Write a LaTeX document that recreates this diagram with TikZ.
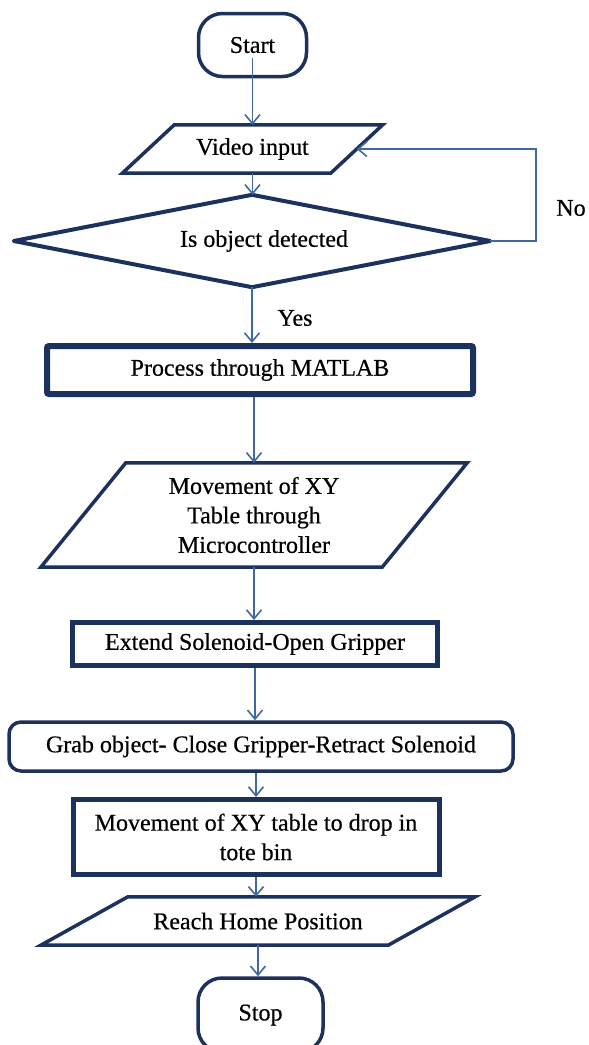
\documentclass[tikz,border=0pt]{standalone}
\usepackage{fontspec}
\setmainfont{Liberation Serif}[FakeBold=0.5]
\usetikzlibrary{arrows.meta}
\definecolor{edge}{RGB}{28,50,92}
\definecolor{flow}{RGB}{64,104,162}
\tikzset{
  base/.style={draw=edge, inner sep=0pt, align=center, font=\fontsize{24}{29.5}\selectfont},
  term/.style={base, line width=3.5pt, rounded corners=24pt},
  heavybox/.style={base, line width=6pt, rounded corners=2pt},
  midbox/.style={base, line width=5pt},
  softbox/.style={base, line width=3.5pt, rounded corners=12pt},
  body/.style={base, draw=none},
  outline/.style={draw=edge, line width=3.5pt, line join=miter},
  arr/.style={draw=flow, line width=1.8pt, -{Straight Barb[length=9pt,width=15pt,line width=1.6pt]}},
  lbl/.style={font=\fontsize{24}{29.5}\selectfont, inner sep=0pt},
}
\begin{document}
\begin{tikzpicture}[x=1pt,y=-1pt]
\clip (0,0) rectangle (589,1045);
\fill[white] (0,0) rectangle (589,1045);

% terminals and process steps
\node[term, minimum width=108pt, minimum height=63pt] (start) at (252.5,45) {Start};
\node[body, minimum width=208pt, minimum height=48pt] (vid) at (252.5,149) {Video input};
\draw[outline] ([xshift=26pt]vid.north west) -- ([xshift=26pt]vid.north east)
  -- ([xshift=-26pt]vid.south east) -- ([xshift=-26pt]vid.south west) -- cycle;

\node[body, minimum width=476pt, minimum height=92pt] (dec) at (252,241) {};
\draw[outline, line width=4pt, line join=round] (dec.north) -- (dec.east) -- (dec.south) -- (dec.west) -- cycle;
\node[lbl] (dectext) at ([xshift=12pt]dec.center) {Is object detected};

\node[heavybox, minimum width=426pt, minimum height=48pt] (proc) at (260,370) {Process through MATLAB};

\node[body, minimum width=341pt, minimum height=104pt] (xy) at (254,515) {Movement of XY\\Table through\\Microcontroller};
\draw[outline] ([xshift=42.5pt]xy.north west) -- ([xshift=42.5pt]xy.north east)
  -- ([xshift=-42.5pt]xy.south east) -- ([xshift=-42.5pt]xy.south west) -- cycle;

\node[midbox, minimum width=365pt, minimum height=43pt] (ext) at (255,644) {Extend Solenoid-Open Gripper};
\node[softbox, minimum width=504pt, minimum height=49pt] (grab) at (261,746.5) {Grab object- Close Gripper-Retract Solenoid};
\node[midbox, minimum width=366pt, minimum height=75pt] (drop) at (256,837) {Movement of XY table to drop in\\tote bin};

\node[body, minimum width=347pt, minimum height=48pt] (home) at (258,921) {Reach Home Position};
\draw[outline] ([xshift=43.5pt]home.north west) -- ([xshift=43.5pt]home.north east)
  -- ([xshift=-43.5pt]home.south east) -- ([xshift=-43.5pt]home.south west) -- cycle;

\node[term, minimum width=125pt, minimum height=74pt] (stop) at (260.5,1015) {Stop};

% connectors
\draw[arr] ([yshift=-13pt]start.center) -- (vid.north);
\draw[arr] (vid.south) -- (vid.south |- dec.north);
\coordinate (bend) at (536,241);
\draw[arr] (dec.east) -- (bend) |- (vid.east);
\node[lbl] (no) at (571,208) {No};
\draw[arr] (dec.south) -- (dec.south |- proc.north);
\node[lbl] (yes) at (295,318) {Yes};
\draw[arr] (proc.south -| xy.north) -- (xy.north);
\draw[arr] (xy.south) -- (xy.south |- ext.north);
\draw[arr] (ext.south) -- (ext.south |- grab.north);
\draw[arr] (grab.south -| drop.north) -- (drop.north);
\draw[arr] (drop.south) -- (drop.south |- home.north);
\draw[arr] (home.south) -- (home.south |- stop.north);
\end{tikzpicture}
\end{document}
